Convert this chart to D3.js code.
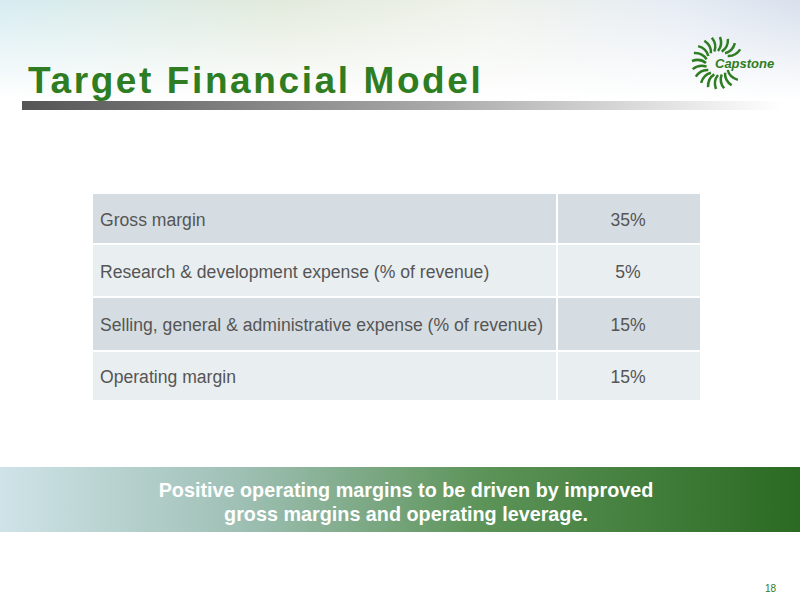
<!DOCTYPE html><html><head><meta charset="utf-8">
<script src="https://cdn.jsdelivr.net/npm/d3@7"></script>
<style>body{margin:0}svg{display:block}</style></head><body>
<script>
const labels=["Gross margin","Research & development expense (% of revenue)","Selling, general & administrative expense (% of revenue)","Operating margin"];
const values=["35%","5%","15%","15%"];
const rowEdges=[194,245,298,352,402];
const W=800,H=600;
const svg=d3.select("body").append("svg").attr("width",W).attr("height",H);
const defs=svg.append("defs");
const g1=defs.append("linearGradient").attr("id","hdr").attr("x1",0).attr("x2",1);
[[0,"#d6ecf1"],[0.35,"#e2eadc"],[0.6,"#eef2ea"],[0.85,"#e6ecf4"],[1,"#d8e0ec"]].forEach(s=>g1.append("stop").attr("offset",s[0]).attr("stop-color",s[1]));
const gv=defs.append("linearGradient").attr("id","fade").attr("x1",0).attr("x2",0).attr("y1",0).attr("y2",1);
gv.append("stop").attr("offset",0).attr("stop-color","#fff").attr("stop-opacity",0);
gv.append("stop").attr("offset",1).attr("stop-color","#fff").attr("stop-opacity",1);
const gb=defs.append("linearGradient").attr("id","bar").attr("x1",0).attr("x2",1);
gb.append("stop").attr("offset",0).attr("stop-color","#555");
gb.append("stop").attr("offset",0.55).attr("stop-color","#aaa");
gb.append("stop").attr("offset",1).attr("stop-color","#fff");
const gg=defs.append("linearGradient").attr("id","ban").attr("x1",0).attr("x2",1);
[[0,"#cfe3e8"],[0.3,"#9fc0b5"],[0.6,"#5d9459"],[1,"#2a6a22"]].forEach(s=>gg.append("stop").attr("offset",s[0]).attr("stop-color",s[1]));
svg.append("rect").attr("width",W).attr("height",H).attr("fill","#fff");
svg.append("rect").attr("width",W).attr("height",100).attr("fill","url(#hdr)");
svg.append("rect").attr("width",W).attr("height",100).attr("fill","url(#fade)");
svg.append("rect").attr("x",22).attr("y",101).attr("width",760).attr("height",9).attr("fill","url(#bar)");
svg.append("text").attr("x",28).attr("y",93).text("Target Financial Model")
 .attr("font-family","Liberation Sans, Arial").attr("font-weight","bold").attr("font-size",37).attr("letter-spacing",2.6).attr("fill","#2f7d22");
const lg=svg.append("g").attr("transform","translate(718,63)");
d3.range(20).forEach(i=>{const a=i/20*2*Math.PI;if(Math.cos(a)>0.2)return;
 lg.append("path").attr("d","M0,-12 Q5,-18 2,-26").attr("transform",`rotate(${a*180/Math.PI+90})`).attr("stroke","#2f7d22").attr("stroke-width",2.5).attr("fill","none");});
d3.range(20).forEach(i=>{const a=i/20*2*Math.PI;if(Math.cos(a)<=0.2||Math.abs(Math.sin(a))<0.55)return;
 lg.append("path").attr("d","M0,-12 Q5,-18 2,-26").attr("transform",`rotate(${a*180/Math.PI+90})`).attr("stroke","#2f7d22").attr("stroke-width",2.5).attr("fill","none");});
lg.append("text").attr("x",-3).attr("y",5).text("Capstone").attr("font-family","Liberation Sans, Arial").attr("font-style","italic").attr("font-weight","bold").attr("font-size",13).attr("fill","#2f7d22");
const x0=93,x1=557,x2=700;
const y=d3.scaleOrdinal().domain(d3.range(4)).range(rowEdges.slice(0,4));
labels.forEach((l,i)=>{
 const top=y(i),h=rowEdges[i+1]-rowEdges[i];
 const f=i%2?"#e9eef1":"#d5dde2";
 svg.append("rect").attr("x",x0).attr("y",top).attr("width",x1-x0-1).attr("height",h-2).attr("fill",f);
 svg.append("rect").attr("x",x1+1).attr("y",top).attr("width",x2-x1-1).attr("height",h-2).attr("fill",f);
 svg.append("text").attr("x",100).attr("y",top+h/2+6).text(l).attr("font-family","Liberation Sans, Arial").attr("font-size",17.6).attr("fill","#555");
 svg.append("text").attr("x",628).attr("y",top+h/2+6).attr("text-anchor","middle").text(values[i]).attr("font-family","Liberation Sans, Arial").attr("font-size",17.6).attr("fill","#555");
});
svg.append("rect").attr("x",0).attr("y",467).attr("width",W).attr("height",65).attr("fill","url(#ban)");
[["Positive operating margins to be driven by improved",497],["gross margins and operating leverage.",521]].forEach(t=>
 svg.append("text").attr("x",406).attr("y",t[1]).attr("text-anchor","middle").text(t[0]).attr("font-family","Liberation Sans, Arial").attr("font-weight","bold").attr("font-size",19.8).attr("fill","#fff"));
svg.append("text").attr("x",776).attr("y",592).attr("text-anchor","end").text("18").attr("font-family","Liberation Sans, Arial").attr("font-size",10).attr("fill","#2f7d22");
</script></body></html>
